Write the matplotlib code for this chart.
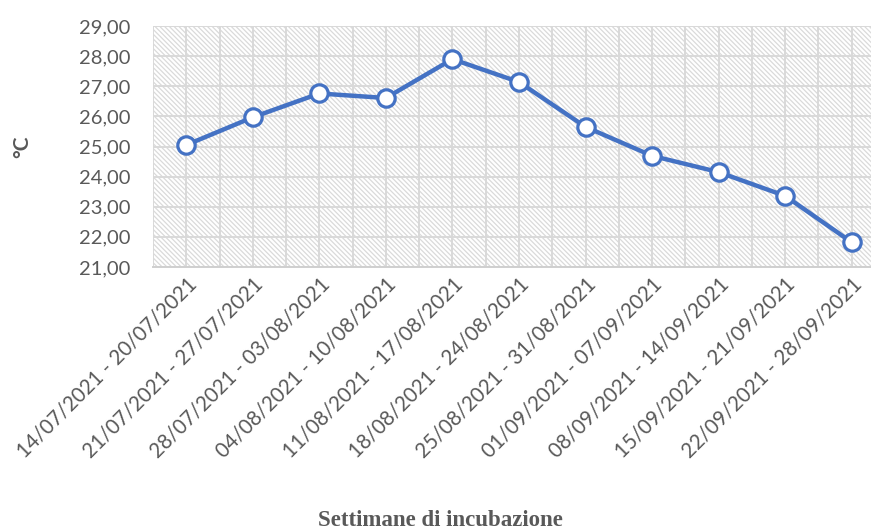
import matplotlib
matplotlib.use("Agg")
import matplotlib.pyplot as plt
from matplotlib.patches import Rectangle
from matplotlib.ticker import MultipleLocator, FuncFormatter

weeks = [
    "14/07/2021 - 20/07/2021",
    "21/07/2021 - 27/07/2021",
    "28/07/2021 - 03/08/2021",
    "04/08/2021 - 10/08/2021",
    "11/08/2021 - 17/08/2021",
    "18/08/2021 - 24/08/2021",
    "25/08/2021 - 31/08/2021",
    "01/09/2021 - 07/09/2021",
    "08/09/2021 - 14/09/2021",
    "15/09/2021 - 21/09/2021",
    "22/09/2021 - 28/09/2021",
]
temperature = [25.05, 25.97, 26.76, 26.61, 27.90, 27.14, 25.65, 24.69, 24.15, 23.36, 21.82]

blue = "#4472C4"
text_gray = "#595959"
grid_gray = "#d9d9d9"

plt.rcParams["hatch.linewidth"] = 0.9
plt.rcParams["hatch.color"] = "#dadada"

fig = plt.figure(figsize=(8.71, 5.31), dpi=100)
ax = fig.add_axes([153 / 871, 1 - 267 / 531, 1 - 153 / 871, (267 - 26) / 531])

x = list(range(len(weeks)))

# diagonal hatched plot-area fill
ax.add_patch(Rectangle((0, 0), 1, 1, transform=ax.transAxes, facecolor="white",
                       edgecolor="#dadada", hatch="\\" * 7, linewidth=0, zorder=0))

ax.yaxis.set_major_locator(MultipleLocator(1))
ax.yaxis.set_major_formatter(FuncFormatter(lambda v, p: f"{v:.2f}".replace(".", ",")))
ax.set_xticks(x)
ax.set_xticks([i + 0.5 for i in range(-1, len(weeks))], minor=True)
ax.set_xticklabels(weeks, rotation=45, ha="right", va="top", rotation_mode="anchor",
                   fontsize=14.8, color=text_gray, family="Lato")
for lbl in ax.get_yticklabels():
    lbl.set_fontsize(14.5)
    lbl.set_color(text_gray)
    lbl.set_family("Lato")

ax.set_xlim(-0.5, 10.29)
ax.set_ylim(21, 29)

ax.grid(True, which="both", axis="x", color=grid_gray, linewidth=1.4, zorder=1)
ax.grid(True, which="major", axis="y", color=grid_gray, linewidth=1.4, zorder=1)
ax.set_axisbelow(True)

for s in ("top", "right", "left"):
    ax.spines[s].set_visible(False)
ax.spines["bottom"].set_color("#cfcfcf")
ax.spines["bottom"].set_linewidth(1.4)
ax.tick_params(axis="both", which="both", length=0)
ax.tick_params(axis="y", pad=16)
ax.tick_params(axis="x", pad=5)

ax.plot(x, temperature, color=blue, linewidth=3.2, marker="o", markersize=12.5,
        markerfacecolor="white", markeredgecolor=blue, markeredgewidth=2.3,
        zorder=3, clip_on=False)

fig.text(22 / 871, 1 - 147 / 531, "°C", rotation=90, ha="center", va="center",
         fontsize=15, fontweight="bold", color=text_gray, family="Lato")
fig.text(440 / 871, 1 - 520 / 531, "Settimane di incubazione", ha="center", va="center",
         fontsize=16.5, fontweight="bold", color=text_gray, family="Liberation Serif")

fig.savefig("out.png", dpi=100)
